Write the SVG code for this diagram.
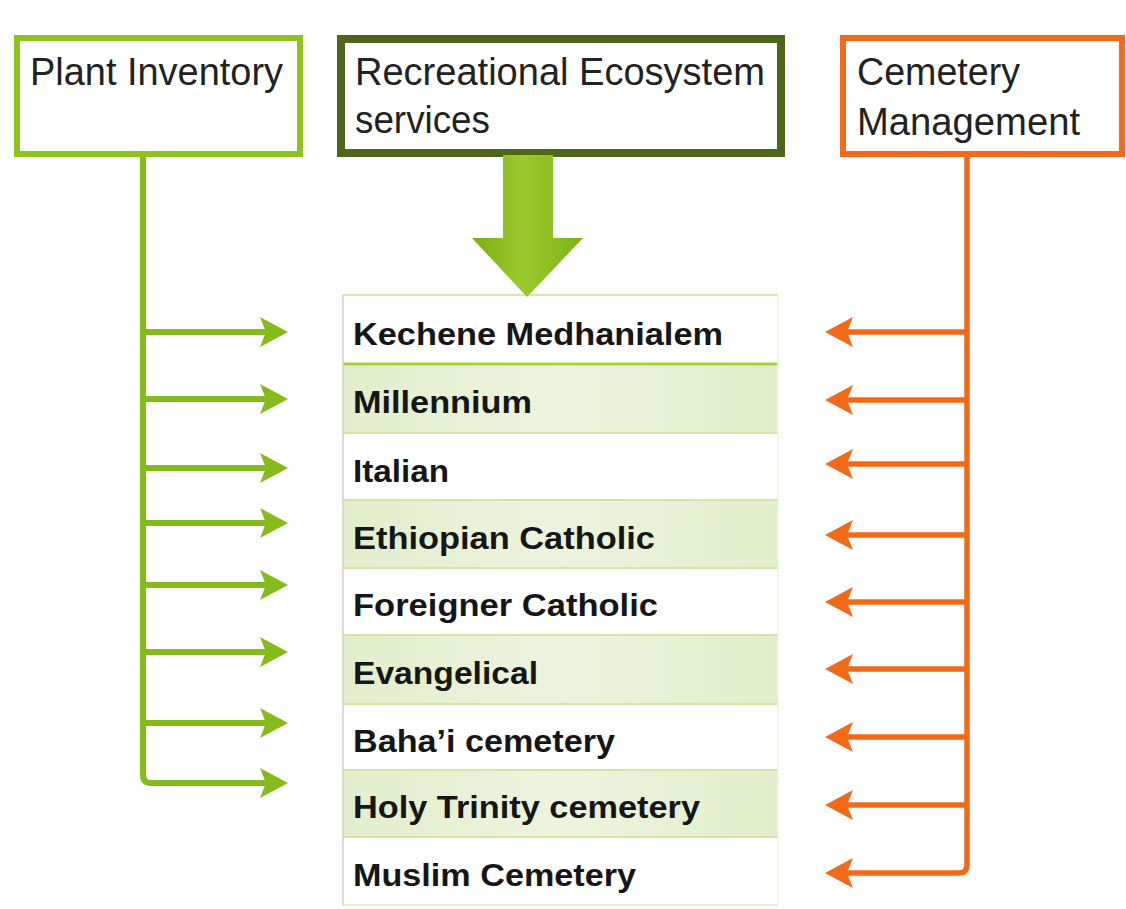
<svg xmlns="http://www.w3.org/2000/svg" xmlns:xlink="http://www.w3.org/1999/xlink" width="1126" height="909" viewBox="0 0 1126 909">
  <style>
    .hdr { font-family: "Liberation Sans", Arial, sans-serif; font-size: 38px; fill: #222222; }
    .row { font-family: "Liberation Sans", Arial, sans-serif; font-size: 31px; font-weight: bold; fill: #161616; }
    .gline { stroke: #85bc1c; stroke-width: 6; fill: none; }
    .oline { stroke: #f06a1a; stroke-width: 5.5; fill: none; }
    .ghead { fill: #85bc1c; }
    .ohead { fill: #f06a1a; }
    .rowW { fill: #ffffff; }
    .rowG { fill: url(#rowGrad); }
    .sep { stroke: #d3e5a6; stroke-width: 2; }
  </style>
  <defs>
    <linearGradient id="bigArrow" x1="0" y1="0" x2="1" y2="0">
      <stop offset="0" stop-color="#78ad14"/>
      <stop offset="0.45" stop-color="#9ccb2c"/>
      <stop offset="1" stop-color="#7cb217"/>
    </linearGradient>
    <linearGradient id="rowGrad" x1="0" y1="0" x2="1" y2="0">
      <stop offset="0" stop-color="#e2eecb"/>
      <stop offset="0.5" stop-color="#edf4de"/>
      <stop offset="1" stop-color="#e2eecb"/>
    </linearGradient>
    <path id="headR" d="M-28,-15 L0,0 L-28,15 L-22,0 Z"/>
    <path id="headL" d="M28,-15 L0,0 L28,15 L22,0 Z"/>
  </defs>

  <rect x="0" y="0" width="1126" height="909" fill="#fefefe"/>

  <g id="plant-inventory">
    <rect x="17" y="38" width="283" height="116" fill="#ffffff" stroke="#8dc21f" stroke-width="6"/>
    <text class="hdr" x="30" y="85" textLength="253" lengthAdjust="spacingAndGlyphs">Plant Inventory</text>
  </g>

  <g id="recreational-ecosystem-services">
    <rect x="341" y="39" width="440" height="114" fill="#ffffff" stroke="#4e6619" stroke-width="8"/>
    <text class="hdr" x="355" y="85" textLength="410" lengthAdjust="spacingAndGlyphs">Recreational Ecosystem</text>
    <text class="hdr" x="355" y="133" textLength="135" lengthAdjust="spacingAndGlyphs">services</text>
  </g>

  <g id="cemetery-management">
    <rect x="843" y="38" width="279" height="116" fill="#ffffff" stroke="#f26a1c" stroke-width="6"/>
    <text class="hdr" x="857" y="85" textLength="163" lengthAdjust="spacingAndGlyphs">Cemetery</text>
    <text class="hdr" x="857" y="135" textLength="223" lengthAdjust="spacingAndGlyphs">Management</text>
  </g>

  <g id="cemetery-list">
    <rect class="rowW" x="343" y="295" width="435" height="69"/>
    <rect class="rowG" x="343" y="364" width="435" height="69"/>
    <rect class="rowW" x="343" y="433" width="435" height="67"/>
    <rect class="rowG" x="343" y="500" width="435" height="68"/>
    <rect class="rowW" x="343" y="568" width="435" height="67"/>
    <rect class="rowG" x="343" y="635" width="435" height="69"/>
    <rect class="rowW" x="343" y="704" width="435" height="66"/>
    <rect class="rowG" x="343" y="770" width="435" height="67"/>
    <rect class="rowW" x="343" y="837" width="435" height="68"/>
    <line x1="343" y1="295" x2="778" y2="295" stroke="#d6e8ad" stroke-width="2"/>
    <line x1="343" y1="364" x2="778" y2="364" stroke="#a8d23c" stroke-width="3"/>
    <line class="sep" x1="343" y1="433" x2="778" y2="433"/>
    <line class="sep" x1="343" y1="500" x2="778" y2="500"/>
    <line class="sep" x1="343" y1="568" x2="778" y2="568"/>
    <line class="sep" x1="343" y1="635" x2="778" y2="635"/>
    <line class="sep" x1="343" y1="704" x2="778" y2="704"/>
    <line class="sep" x1="343" y1="770" x2="778" y2="770"/>
    <line class="sep" x1="343" y1="837" x2="778" y2="837"/>
    <line x1="343" y1="905" x2="778" y2="905" stroke="#e6efd2" stroke-width="2"/>
    <line x1="343" y1="295" x2="343" y2="905" stroke="#d0d0cc" stroke-width="1.5"/>
    <line x1="778" y1="295" x2="778" y2="905" stroke="#eef3e2" stroke-width="1.5"/>
    <text class="row" x="353" y="345" textLength="370" lengthAdjust="spacingAndGlyphs">Kechene Medhanialem</text>
    <text class="row" x="353" y="413" textLength="179" lengthAdjust="spacingAndGlyphs">Millennium</text>
    <text class="row" x="353" y="482" textLength="96" lengthAdjust="spacingAndGlyphs">Italian</text>
    <text class="row" x="353" y="549" textLength="302" lengthAdjust="spacingAndGlyphs">Ethiopian Catholic</text>
    <text class="row" x="353" y="616" textLength="305" lengthAdjust="spacingAndGlyphs">Foreigner Catholic</text>
    <text class="row" x="353" y="684" textLength="185" lengthAdjust="spacingAndGlyphs">Evangelical</text>
    <text class="row" x="353" y="752" textLength="262" lengthAdjust="spacingAndGlyphs">Baha’i cemetery</text>
    <text class="row" x="353" y="818" textLength="347" lengthAdjust="spacingAndGlyphs">Holy Trinity cemetery</text>
    <text class="row" x="353" y="886" textLength="283" lengthAdjust="spacingAndGlyphs">Muslim Cemetery</text>
  </g>

  <g id="connectors">
    <polygon points="503,155 553,155 553,238 583,238 527,297 472,238 503,238" fill="url(#bigArrow)"/>

    <path class="gline" d="M143,157 V775 Q143,783 151,783 H268"/>
    <line class="gline" x1="143" y1="332" x2="268" y2="332"/>
    <line class="gline" x1="143" y1="399" x2="268" y2="399"/>
    <line class="gline" x1="143" y1="468" x2="268" y2="468"/>
    <line class="gline" x1="143" y1="523" x2="268" y2="523"/>
    <line class="gline" x1="143" y1="585" x2="268" y2="585"/>
    <line class="gline" x1="143" y1="652" x2="268" y2="652"/>
    <line class="gline" x1="143" y1="723" x2="268" y2="723"/>
    <use href="#headR" class="ghead" x="288" y="332"/>
    <use href="#headR" class="ghead" x="288" y="399"/>
    <use href="#headR" class="ghead" x="288" y="468"/>
    <use href="#headR" class="ghead" x="288" y="523"/>
    <use href="#headR" class="ghead" x="288" y="585"/>
    <use href="#headR" class="ghead" x="288" y="652"/>
    <use href="#headR" class="ghead" x="288" y="723"/>
    <use href="#headR" class="ghead" x="288" y="783"/>

    <path class="oline" d="M967,157 V865 Q967,873 959,873 H845"/>
    <line class="oline" x1="967" y1="332" x2="845" y2="332"/>
    <line class="oline" x1="967" y1="400" x2="845" y2="400"/>
    <line class="oline" x1="967" y1="464" x2="845" y2="464"/>
    <line class="oline" x1="967" y1="535" x2="845" y2="535"/>
    <line class="oline" x1="967" y1="602" x2="845" y2="602"/>
    <line class="oline" x1="967" y1="669" x2="845" y2="669"/>
    <line class="oline" x1="967" y1="737" x2="845" y2="737"/>
    <line class="oline" x1="967" y1="805" x2="845" y2="805"/>
    <use href="#headL" class="ohead" x="825" y="332"/>
    <use href="#headL" class="ohead" x="825" y="400"/>
    <use href="#headL" class="ohead" x="825" y="464"/>
    <use href="#headL" class="ohead" x="825" y="535"/>
    <use href="#headL" class="ohead" x="825" y="602"/>
    <use href="#headL" class="ohead" x="825" y="669"/>
    <use href="#headL" class="ohead" x="825" y="737"/>
    <use href="#headL" class="ohead" x="825" y="805"/>
    <use href="#headL" class="ohead" x="825" y="873"/>
  </g>
</svg>
